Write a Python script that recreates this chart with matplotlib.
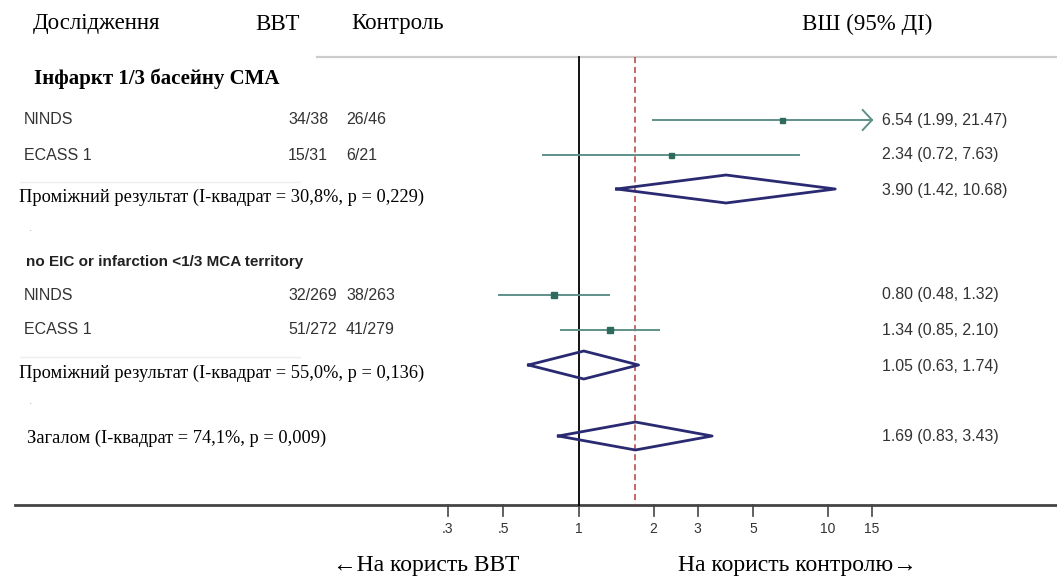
import numpy as np
import matplotlib
matplotlib.use("Agg")
import matplotlib.pyplot as plt
import matplotlib.transforms as mtransforms

# ---- data ----
groups = ["Інфаркт 1/3 басейну CMA", "no EIC or infarction <1/3 MCA territory"]
studies = ["NINDS", "ECASS 1", "NINDS", "ECASS 1"]
ivt = ["34/38", "15/31", "32/269", "51/272"]
ctrl = ["26/46", "6/21", "38/263", "41/279"]
odds = [6.54, 2.34, 0.80, 1.34]
lo = [1.99, 0.72, 0.48, 0.85]
hi = [21.47, 7.63, 1.32, 2.10]
weight = [3.6, 3.6, 5.0, 4.4]  # marker size ~ study weight

pooled_lbl = ["Проміжний результат (I-квадрат = 30,8%, p = 0,229)",
              "Проміжний результат (I-квадрат = 55,0%, p = 0,136)",
              "Загалом (I-квадрат = 74,1%, p = 0,009)"]
pooled_or = [3.90, 1.05, 1.69]
pooled_lo = [1.42, 0.63, 0.83]
pooled_hi = [10.68, 1.74, 3.43]

ticks = [0.3, 0.5, 1, 2, 3, 5, 10, 15]
tick_lbl = [".3", ".5", "1", "2", "3", "5", "10", "15"]
xmax_draw = 15

# ---- layout (rows in pixels from top) ----
W, H = 1057, 576
study_rows = [120, 155, 295, 330]
group_rows = [79, 262]
pooled_rows = [189, 365, 436]
pooled_text_rows = [197, 373, 438]
pooled_text_x = [19, 19, 27]
dot_rows = [228, 401]
y_head, y_top, y_axis, y_bot = 24, 57, 505, 565

fig = plt.figure(figsize=(W / 100, H / 100), dpi=100)
ax = fig.add_axes([0, 0, 1, 1])
ax.set_xscale("log")
# x pixel = 578.5 + 249.6*log10(v)
ax.set_xlim(10 ** (-578.5 / 249.6), 10 ** ((W - 578.5) / 249.6))
ax.set_ylim(H, 0)
ax.axis("off")

def px(x):
    return x / W

def val(x):
    return 10 ** ((x - 578.5) / 249.6)

tr = mtransforms.blended_transform_factory(fig.transFigure, ax.transData)

serif = "Liberation Serif"
sans = "Liberation Sans"
dark = "#333333"
teal = "#5e9189"
navy = "#2a2a72"

# header
ax.text(px(33), y_head, "Дослідження", transform=tr, family=serif, fontsize=16.5, va="center")
ax.text(px(255), y_head, "ВВТ", transform=tr, family=serif, fontsize=16.5, va="center")
ax.text(px(351), y_head, "Контроль", transform=tr, family=serif, fontsize=16.5, va="center")
ax.text(px(867), y_head, "ВШ (95% ДІ)", transform=tr, family=serif, fontsize=16.5,
        va="center", ha="center")

# top rule
ax.plot([val(317), val(W)], [y_top, y_top], color="#cccccc", lw=1.6)

# faint separators under study blocks
for y in (182, 357):
    ax.plot([val(20), val(300)], [y, y], color="#eeeeee", lw=1)

# x axis
ax.plot([val(15), val(W)], [y_axis, y_axis], color="#444444", lw=2)
for t, lb in zip(ticks, tick_lbl):
    ax.plot([t, t], [y_axis, y_axis + 11], color="#444444", lw=1.2)
    ax.text(t, y_axis + 24, lb, ha="center", va="center", family=sans, fontsize=10, color=dark)

# reference lines
ax.plot([1, 1], [y_top, y_axis], color="black", lw=1.3)
ax.plot([pooled_or[2]] * 2, [y_top, y_axis], color="#b04040", lw=1.1, ls=(0, (4, 2.5)))

# group headers
ax.text(px(34), group_rows[0], groups[0], transform=tr, family=serif, fontsize=15,
        fontweight="bold", va="center")
ax.text(px(26), group_rows[1], groups[1], transform=tr, family=sans, fontsize=11,
        fontweight="bold", va="center", color="#222222")

# studies
for i in range(len(studies)):
    y = study_rows[i]
    ax.text(px(24), y, studies[i], transform=tr, family=sans, fontsize=11.5, va="center", color=dark)
    ax.text(px(288), y, ivt[i], transform=tr, family=sans, fontsize=11.5, va="center", color=dark)
    ax.text(px(346), y, ctrl[i], transform=tr, family=sans, fontsize=11.5, va="center", color=dark)
    right = min(hi[i], xmax_draw)
    ax.plot([lo[i], right], [y, y], color=teal, lw=1.4)
    if hi[i] > xmax_draw:
        ax.plot([right / 1.09, right, right / 1.09], [y - 10, y, y + 10], color=teal, lw=1.4)
    ax.plot(odds[i], y, marker="s", ms=weight[i], color="#2e6b5c", mec="#2e6b5c")
    ax.text(px(882), y, f"{odds[i]:.2f} ({lo[i]:.2f}, {hi[i]:.2f})", transform=tr,
            family=sans, fontsize=11.4, va="center", color=dark)

# pooled diamonds
for j in range(len(pooled_or)):
    y = pooled_rows[j]
    h = 14
    ax.plot([pooled_lo[j], pooled_or[j], pooled_hi[j], pooled_or[j], pooled_lo[j]],
            [y, y - h, y, y + h, y], color=navy, lw=2)
    ax.text(px(882), y + 1, f"{pooled_or[j]:.2f} ({pooled_lo[j]:.2f}, {pooled_hi[j]:.2f})",
            transform=tr, family=sans, fontsize=11.4, va="center", color=dark)
    ax.text(px(pooled_text_x[j]), pooled_text_rows[j], pooled_lbl[j], transform=tr,
            family=serif, fontsize=13.2, va="center")

for y in dot_rows:
    ax.text(px(29), y, ".", transform=tr, family=sans, fontsize=9, va="center", color="#aaaaaa")

# bottom labels
ax.text(px(426), y_bot, "←На користь ВВТ", transform=tr, family=serif, fontsize=17,
        ha="center", va="center")
ax.text(px(797), y_bot, "На користь контролю→", transform=tr, family=serif, fontsize=17,
        ha="center", va="center")

fig.savefig("out.png", dpi=100)
